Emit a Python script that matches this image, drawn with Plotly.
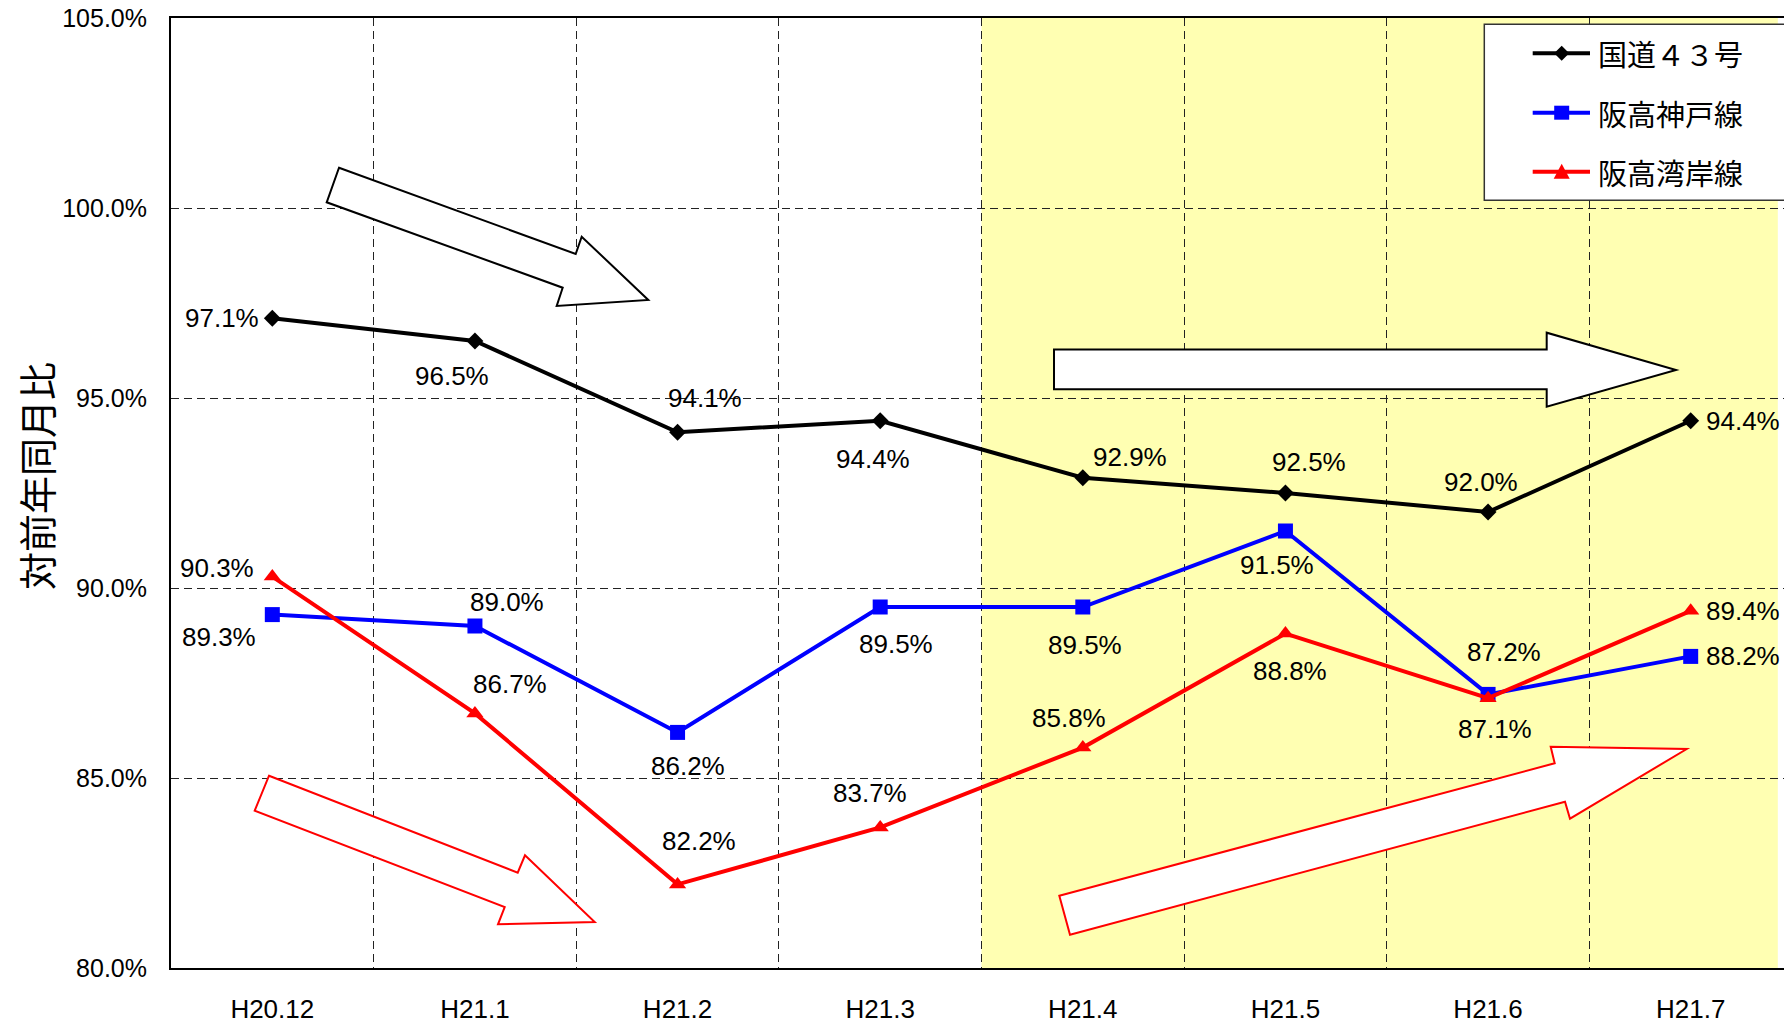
import plotly.graph_objects as go

# ---------------- data ----------------
months = ["H20.12", "H21.1", "H21.2", "H21.3", "H21.4", "H21.5", "H21.6", "H21.7"]
route43 = [97.1, 96.5, 94.1, 94.4, 92.9, 92.5, 92.0, 94.4]
hanshin_kobe = [89.3, 89.0, 86.2, 89.5, 89.5, 91.5, 87.2, 88.2]
hanshin_wangan = [90.3, 86.7, 82.2, 83.7, 85.8, 88.8, 87.1, 89.4]
series_names = ["国道４３号", "阪高神戸線", "阪高湾岸線"]
y_ticks = [80, 85, 90, 95, 100, 105]
y_title = "対前年同月比"

# ---------------- styling ----------------
PAGE_W, PAGE_H = 1792, 1026
OFF = 8                                   # default body margin of the html page
W, H = PAGE_W - OFF, PAGE_H - OFF          # figure size
L, R, T, B = 171, 1792, 18, 968            # plot area in page pixels
NUM_FONT = "Liberation Sans, Arial, sans-serif"
JP_FONT = "Noto Sans CJK JP"

colors = ["#000000", "#0000FF", "#FF0000"]
symbols = ["diamond", "square", "triangle-up"]
msizes = [13, 15, 15]

# label offsets (px) per point: (xshift, yshift)
offsets = [
    [(-50, 0), (-23, -35), (27, 34), (-7, -38), (47, 21), (24, 31), (-7, 30), (52, 0)],
    [(-53, -22), (32, 24), (10, -34), (16, -37), (2, -38), (-8, -34), (16, 42), (52, 0)],
    [(-55, 9), (35, 29), (21, 43), (-10, 34), (-14, 30), (5, -37), (7, -31), (52, 0)],
]


def px(x, y):
    return (x - L) / (R - L), (B - y) / (B - T)


def poly_path(pts):
    s = ""
    for i, (x, y) in enumerate(pts):
        xp, yp = px(x, y)
        s += ("M" if i == 0 else "L") + f"{xp:.5f},{yp:.5f} "
    return s + "Z"


fig = go.Figure()
series = [route43, hanshin_kobe, hanshin_wangan]
for k, vals in enumerate(series):
    fig.add_trace(go.Scatter(
        x=months, y=vals, name=series_names[k], mode="lines+markers",
        line=dict(color=colors[k], width=4),
        marker=dict(symbol=symbols[k], size=msizes[k], color=colors[k]),
        showlegend=False,
    ))

annotations = []
for k, vals in enumerate(series):
    for i, v in enumerate(vals):
        dx, dy = offsets[k][i]
        annotations.append(dict(
            x=months[i], y=v, text=f"{v:.1f}%", showarrow=False,
            xshift=dx, yshift=dy, font=dict(family=NUM_FONT, size=26, color="black"),
        ))

xp, yp = px(36, 476)
annotations.append(dict(
    x=xp, y=yp, xref="paper", yref="paper", text=y_title, showarrow=False,
    textangle=-90, font=dict(family=JP_FONT, size=38, color="black"),
    xanchor="center", yanchor="middle", borderpad=0,
))

shapes = []
# yellow highlighted period
shapes.append(dict(type="rect", xref="x", yref="paper", x0=3.5, x1=7.43, y0=0, y1=1,
                   fillcolor="#FFFFB2", line=dict(width=0), layer="below"))

arrows = [
    ([(339, 167.7), (575.7, 254), (581.7, 236.7), (648.3, 300), (556.7, 306), (562.7, 287.7), (326.7, 202.3)], "#000000"),
    ([(1054, 349.5), (1546.7, 349.5), (1546.7, 332.7), (1676, 370), (1546.7, 406.7), (1546.7, 389.3), (1054, 389.3)], "#000000"),
    ([(269, 775.7), (517.7, 872.7), (525, 855.3), (594.7, 922), (498, 924.3), (504.7, 907), (254.7, 810.7)], "#FF0000"),
    ([(1059.3, 895.7), (1554.7, 763.3), (1550.7, 746.7), (1686.7, 749), (1570, 818.7), (1565, 801.7), (1070, 934.7)], "#FF0000"),
]
for pts, c in arrows:
    shapes.append(dict(type="path", xref="paper", yref="paper", path=poly_path(pts),
                       fillcolor="white", line=dict(color=c, width=2), layer="above"))

# ---- custom legend ----
lx0, ly0 = px(1484.3, 24.3)
lx1, ly1 = px(1788.3, 200.3)
shapes.append(dict(type="rect", xref="paper", yref="paper", x0=lx0, x1=lx1, y0=ly1, y1=ly0,
                   fillcolor="white", line=dict(color="#333333", width=1.5), layer="above"))
leg_rows = [53.3, 112.7, 171.7]
line_x0, line_x1, mark_x, text_x = 1532.7, 1590, 1561.7, 1596
for k, yrow in enumerate(leg_rows):
    a, yv = px(line_x0, yrow)
    b, _ = px(line_x1, yrow)
    shapes.append(dict(type="line", xref="paper", yref="paper", x0=a, x1=b, y0=yv, y1=yv,
                       line=dict(color=colors[k], width=4), layer="above"))
    if symbols[k] == "diamond":
        pts = [(mark_x, yrow - 7.5), (mark_x + 7.5, yrow), (mark_x, yrow + 7.5), (mark_x - 7.5, yrow)]
    elif symbols[k] == "square":
        pts = [(mark_x - 7.5, yrow - 7), (mark_x + 7.5, yrow - 7), (mark_x + 7.5, yrow + 7), (mark_x - 7.5, yrow + 7)]
    else:
        pts = [(mark_x, yrow - 8), (mark_x + 8, yrow + 7), (mark_x - 8, yrow + 7)]
    shapes.append(dict(type="path", xref="paper", yref="paper", path=poly_path(pts),
                       fillcolor=colors[k], line=dict(color=colors[k], width=0), layer="above"))
    tx, ty = px(text_x, yrow)
    annotations.append(dict(x=tx, y=ty, xref="paper", yref="paper", text=series_names[k],
                            showarrow=False, xanchor="left", yanchor="middle",
                            font=dict(family=JP_FONT, size=29, color="black")))

fig.update_layout(
    width=W, height=H,
    margin=dict(l=L - OFF, r=PAGE_W - R, t=T - OFF, b=PAGE_H - B, autoexpand=False),
    paper_bgcolor="white", plot_bgcolor="white",
    showlegend=False,
    annotations=annotations, shapes=shapes,
    xaxis=dict(type="category", range=[-0.5, 7.5], tickson="boundaries", automargin=False,
               showgrid=True, gridcolor="#222222", griddash="8px,5px", gridwidth=1,
               showline=True, linecolor="black", linewidth=2, mirror=True,
               ticks="", ticklabelstandoff=17, ticklabeloverflow="allow",
               tickfont=dict(family=NUM_FONT, size=26, color="black")),
    yaxis=dict(range=[80, 105], tickvals=y_ticks, automargin=False,
               ticktext=[f"{v:.1f}%" for v in y_ticks],
               showgrid=True, gridcolor="#222222", griddash="8px,5px", gridwidth=1,
               showline=True, linecolor="black", linewidth=2, zeroline=False,
               ticks="", ticklabelstandoff=17, ticklabeloverflow="allow",
               tickfont=dict(family=NUM_FONT, size=25, color="black")),
)

fig.write_html("out.html")
